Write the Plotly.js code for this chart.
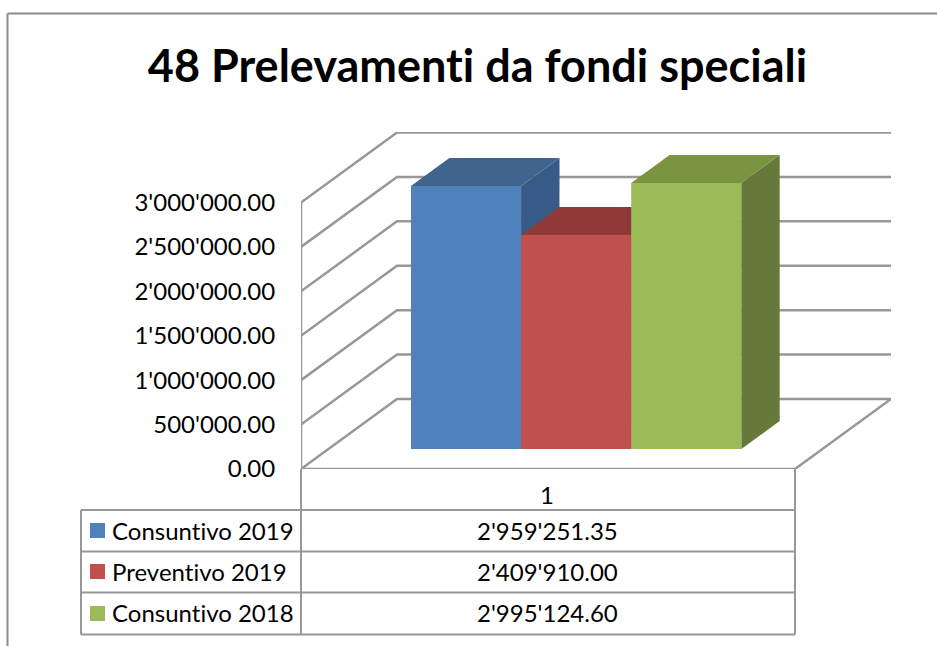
<!DOCTYPE html>
<html>
<head>
<meta charset="utf-8">
<script src="https://cdn.plot.ly/plotly-3.0.1.min.js"></script>
<style>html,body{margin:0;padding:0;background:#fff;overflow:hidden}#chart{width:937px;height:646px}
svg text{font-variant-ligatures:none;font-feature-settings:"liga" 0}</style>
</head>
<body>
<div id="chart"></div>
<script>
// ---- data ----
const chartTitle = "48 Prelevamenti da fondi speciali";
const seriesNames = ["Consuntivo 2019", "Preventivo 2019", "Consuntivo 2018"];
const seriesValues = [2959251.35, 2409910.00, 2995124.60];
const valueLabels = ["2'959'251.35", "2'409'910.00", "2'995'124.60"];
const categoryLabel = "1";
const tickValues = [0, 500000, 1000000, 1500000, 2000000, 2500000, 3000000];
const tickLabels = ["0.00", "500'000.00", "1'000'000.00", "1'500'000.00", "2'000'000.00", "2'500'000.00", "3'000'000.00"];
const frontColors = ["#4F81BD", "#C0504D", "#9BBB59"];
const topColors = ["#41648F", "#8F3A38", "#7A9440"];
const sideColors = ["#375A87", "#863634", "#66793A"];

// ---- geometry of the oblique projection ----
const W = 937, H = 646;
const axL = 301, axR = 795, backR = 891, axB = 469, backT = 132;
const pxPerValue = 266.5 / 3000000;
const depthPxX = (backR - axR), depthPxY = 70;
const floorW = axR - axL;
const depthX = depthPxX / floorW;          // x-units for full depth
const depthY = depthPxY / pxPerValue;      // value-units for full depth
const groupStart = 0.167, barW = 0.2229;   // bar layout inside the category
const barD0 = 0.286, barD1 = 0.686;        // bar depth span
const gridColor = "#989898", font = "Lato, Carlito, 'Open Sans', sans-serif";
const textSize = 24;

const P = (u, v, d) => [u + d * depthX, v + d * depthY];
function poly(points, color) {
  const p = points.map(a => P(a[0], a[1], a[2]));
  return {x: p.map(a => a[0]).concat(p[0][0]), y: p.map(a => a[1]).concat(p[0][1]),
    mode: "lines", fill: "toself", fillcolor: color, line: {width: 0}, hoverinfo: "skip", showlegend: false, type: "scatter"};
}
function path(points) {
  const p = points.map(a => P(a[0], a[1], a[2]));
  return {x: p.map(a => a[0]), y: p.map(a => a[1]), mode: "lines",
    line: {color: gridColor, width: 2.5}, hoverinfo: "skip", showlegend: false, type: "scatter", cliponaxis: false};
}

const traces = [];
// wall grid lines
tickValues.forEach(t => {
  if (t > 0) traces.push(path([[0, t, 0], [0, t, 1], [1, t, 1]]));
});
// floor
traces.push(path([[0, 0, 0], [0, 0, 1], [1, 0, 1], [1, 0, 0], [0, 0, 0]]));
// front vertical axis
traces.push(path([[0, 0, 0], [0, tickValues[tickValues.length - 1], 0]]));
// bars
seriesValues.forEach((v, i) => {
  const a = groupStart + i * barW, b = a + barW;
  traces.push(poly([[b, 0, barD0], [b, 0, barD1], [b, v, barD1], [b, v, barD0]], sideColors[i]));
  traces.push(poly([[a, v, barD0], [a, v, barD1], [b, v, barD1], [b, v, barD0]], topColors[i]));
  traces.push(poly([[a, 0, barD0], [b, 0, barD0], [b, v, barD0], [a, v, barD0]], frontColors[i]));
});

// ---- table, frame and text in page coordinates ----
const px = x => x / W, py = y => 1 - y / H;
const line = (x0, y0, x1, y1, c, w) => ({type: "line", xref: "paper", yref: "paper",
  x0: px(x0), y0: py(y0), x1: px(x1), y1: py(y1), line: {color: c || gridColor, width: w || 2}, layer: "below"});
const shapes = [
  line(7.5, 13.5, 7.5, 646, "#8C8C8C", 2), line(7.5, 13.5, 937, 13.5, "#8C8C8C", 2),
  line(301, 469, 301, 634.5), line(795, 469, 795, 634.5), line(81, 510, 81, 634.5),
  line(81, 510, 795, 510), line(81, 551.5, 795, 551.5), line(81, 592.5, 795, 592.5), line(81, 634.5, 795, 634.5)
];
const rowMid = [530, 571.5, 612.5];
const keyTop = [523, 564, 606];
const annotations = [{
  text: categoryLabel, xref: "paper", yref: "paper", x: px(547), y: py(494.5), xanchor: "center", yanchor: "middle",
  showarrow: false, font: {family: font, size: textSize, color: "#000"}
}];
seriesNames.forEach((n, i) => {
  shapes.push({type: "rect", xref: "paper", yref: "paper", x0: px(90), x1: px(105), y0: py(keyTop[i]), y1: py(keyTop[i] + 15),
    fillcolor: frontColors[i], line: {width: 0}});
  annotations.push({text: n, xref: "paper", yref: "paper", x: px(109.5), y: py(rowMid[i]), xanchor: "left", yanchor: "middle",
    showarrow: false, font: {family: font, size: textSize, color: "#000"}});
  annotations.push({text: valueLabels[i], xref: "paper", yref: "paper", x: px(547.5), y: py(rowMid[i]), xanchor: "center", yanchor: "middle",
    showarrow: false, font: {family: font, size: textSize, color: "#000"}});
});

const layout = {
  width: W, height: H, margin: {l: 0, r: 0, t: 0, b: 0, pad: 0},
  paper_bgcolor: "#fff", plot_bgcolor: "rgba(0,0,0,0)", showlegend: false,
  title: {text: chartTitle, x: 477.5 / W, xanchor: "center", xref: "paper", y: py(66), yanchor: "middle", yref: "container",
    font: {family: font, size: 45, weight: 700, color: "#000"}},
  xaxis: {domain: [px(axL), px(backR)], range: [0, 1 + depthX], visible: false, fixedrange: true},
  yaxis: {domain: [py(axB), py(backT)], range: [0, (axB - backT) / pxPerValue], fixedrange: true,
    showgrid: false, zeroline: false, showline: false, tickmode: "array", tickvals: tickValues, ticktext: tickLabels,
    ticks: "outside", ticklen: 20, tickcolor: "rgba(0,0,0,0)", tickfont: {family: font, size: textSize, color: "#000"}},
  shapes: shapes, annotations: annotations
};
Plotly.newPlot("chart", traces, layout, {displayModeBar: false, responsive: false});
</script>
</body>
</html>
